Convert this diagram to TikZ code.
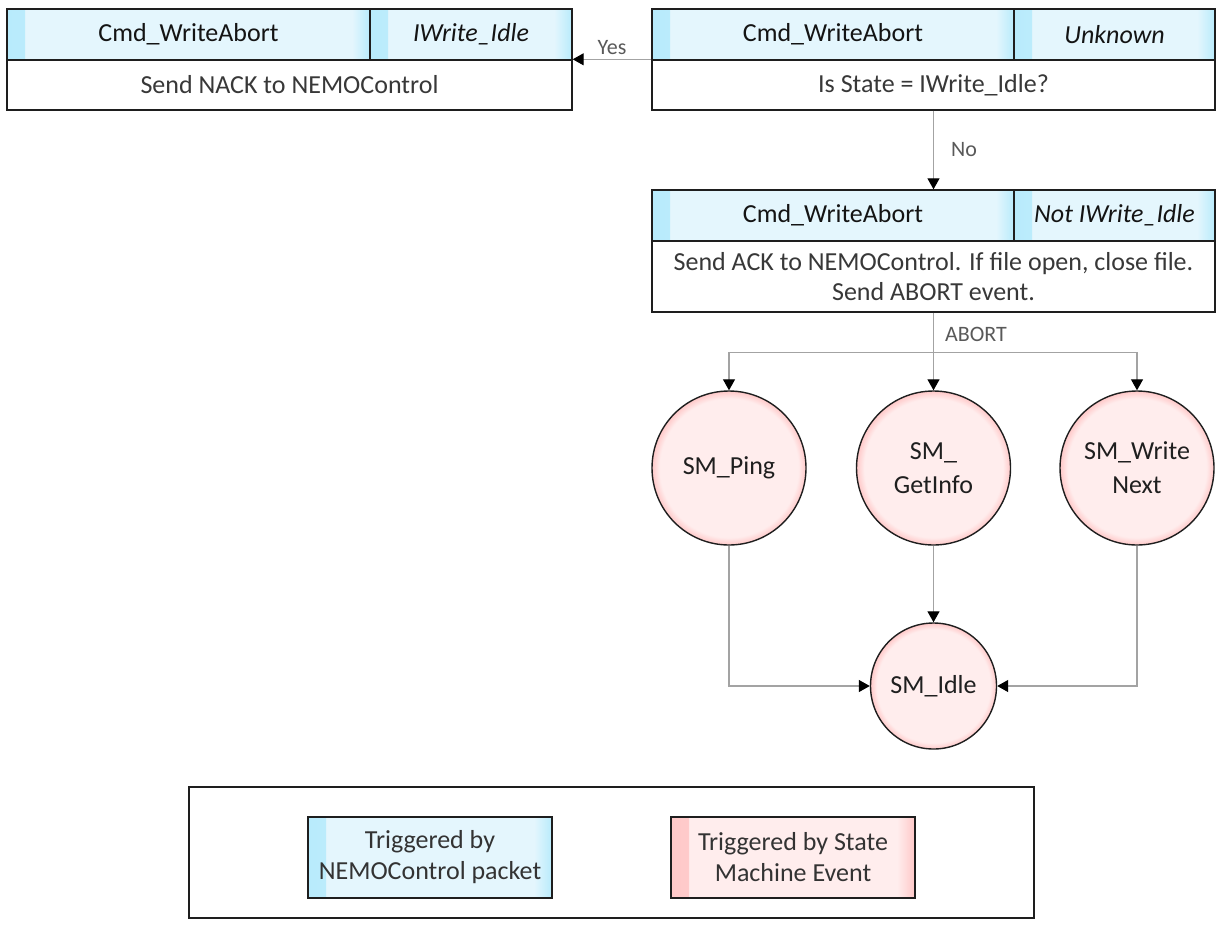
\documentclass[tikz,border=0pt]{standalone}
\usepackage{fontspec}
\setmainfont{Carlito}
\usetikzlibrary{arrows.meta,calc}
\definecolor{cyL}{HTML}{E4F6FD}
\definecolor{cyB}{HTML}{B8EBFC}
\definecolor{pkL}{HTML}{FFEDED}
\definecolor{pkB}{HTML}{FFC8C8}
\definecolor{edgec}{HTML}{1E1E1E}
\definecolor{wirec}{HTML}{A3A3A3}
\definecolor{lblc}{HTML}{595959}
\pgfdeclareradialshading{pinkglow}{\pgfpoint{0bp}{0bp}}{color(0bp)=(pkL); color(22.5bp)=(pkL); color(25bp)=(pkB); color(50bp)=(pkB)}
\tikzset{
  glowedges/.style 2 args={path picture={
    \shade[left color=#2,right color=#1] (path picture bounding box.south west) rectangle ([xshift=18pt]path picture bounding box.north west);
    \shade[left color=#1,right color=#2] ([xshift=-18pt]path picture bounding box.south east) rectangle (path picture bounding box.north east);}},
  cell/.style={rectangle, draw=edgec, line width=1.4pt, fill=cyL, glowedges={cyL}{cyB},
    minimum height=51pt, inner sep=0pt, font=\fontsize{26}{30}\selectfont, text=black!92},
  bodybox/.style={rectangle, draw=edgec, line width=1.4pt, fill=white, inner sep=0pt,
    align=center, font=\fontsize{26}{30}\selectfont, text=black!78},
  statec/.style={circle, draw=edgec, line width=1.4pt, shading=pinkglow, minimum size=154pt,
    inner sep=0pt, align=center, font=\fontsize{26}{34}\selectfont, text=black!88},
  legcyan/.style={rectangle, draw=edgec, line width=1.4pt, fill=cyL, glowedges={cyL}{cyB},
    minimum width=244pt, minimum height=81pt, inner sep=0pt, align=center,
    font=\fontsize{26}{31}\selectfont, text=black!80},
  legpink/.style={rectangle, draw=edgec, line width=1.4pt, fill=pkL, glowedges={pkL}{pkB},
    minimum width=244pt, minimum height=81pt, inner sep=0pt, align=center,
    font=\fontsize{26}{31}\selectfont, text=black!80},
  wire/.style={draw=wirec, line width=1.2pt, -{Triangle[length=11pt,width=12pt,color=black]}},
  lbl/.style={font=\fontsize{22}{26}\selectfont, text=lblc, inner sep=3pt}
}
\begin{document}
\begin{tikzpicture}[x=1pt,y=-1pt]
\useasboundingbox (0,0) rectangle (1217,924);
% top-left box
\node[cell, minimum width=363pt] (tlA) at (188.5,34.5) {Cmd\_WriteAbort};
\node[cell, minimum width=202pt] (tlB) at (471,34.5) {\itshape IWrite\_Idle};
\node[bodybox, minimum width=565pt, minimum height=50pt] (tlC) at (289.5,85) {Send NACK to NEMOControl};
% top-right box
\node[cell, minimum width=362pt] (trA) at (833,34.5) {Cmd\_WriteAbort};
\node[cell, minimum width=201pt] (trB) at (1114.5,34.5) {\itshape Unknown};
\node[bodybox, minimum width=563pt, minimum height=50pt] (trC) at (933.5,85) {Is State = IWrite\_Idle?};
% middle box
\node[cell, minimum width=362pt] (mA) at (833,215.5) {Cmd\_WriteAbort};
\node[cell, minimum width=201pt] (mB) at (1114.5,215.5) {\itshape Not IWrite\_Idle};
\node[bodybox, minimum width=563pt, minimum height=71pt] (mC) at (933.5,276.5) {Send ACK to NEMOControl. If file open, close file.\\Send ABORT event.};
% states
\node[statec] (ping) at (729,468) {SM\_Ping};
\node[statec] (info) at (933.5,468) {SM\_\\GetInfo};
\node[statec] (wnext) at (1137,468) {SM\_Write\\Next};
\node[statec, minimum size=126pt] (idle) at (933.5,686) {SM\_Idle};
% connectors
\draw[wire] (trC.north west) -- node[lbl, above, yshift=1pt] (yes) {Yes} (tlC.north east);
\draw[wire] (trC.south) -- node[lbl, right, xshift=14pt] (no) {No} (trC.south |- mA.north);
\draw[wire] (mC.south) -- node[lbl, right, pos=0.28, xshift=8pt] (abort) {ABORT} (info.north);
\coordinate (br) at ($(mC.south)+(0,40)$);
\draw[wire] (br) -| (ping.north);
\draw[wire] (br) -| (wnext.north);
\draw[wire] (info.south) -- (idle.north);
\draw[wire] (ping.south) |- (idle.west);
\draw[wire] (wnext.south) |- (idle.east);
% legend
\node[rectangle, draw=edgec, line width=1.4pt, minimum width=845pt, minimum height=131pt, inner sep=0pt] (legend) at (611.5,852.5) {};
\node[legcyan] (lgA) at (430,857.5) {Triggered by\\NEMOControl packet};
\node[legpink] (lgB) at (793,857.5) {Triggered by State\\Machine Event};
\end{tikzpicture}
\end{document}
